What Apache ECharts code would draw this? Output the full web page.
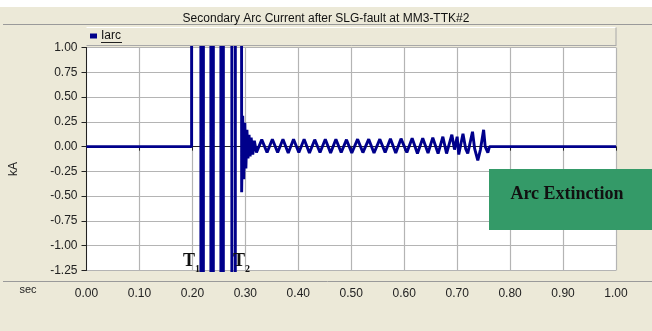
<!DOCTYPE html>
<html>
<head>
<meta charset="utf-8">
<script src="https://cdn.jsdelivr.net/npm/echarts@6/dist/echarts.min.js"></script>
<style>
html,body{margin:0;padding:0;background:#ECE9D8;}
#chart{width:652px;height:331px;}
</style>
</head>
<body>
<div id="chart"></div>
<script>
// ---- data (time in sec, current in kA) ----
const chartTitle = 'Secondary Arc Current after SLG-fault at MM3-TTK#2';
const seriesName = 'Iarc';
const xTicks = [0.0, 0.1, 0.2, 0.3, 0.4, 0.5, 0.6, 0.7, 0.8, 0.9, 1.0];
const yTicks = [1.00, 0.75, 0.50, 0.25, 0.00, -0.25, -0.50, -0.75, -1.00, -1.25];

const preFault = [[0, 0], [0.1985, 0]];
// primary arc: large current, far beyond the visible range
const primaryArc = [
  [0.1987, 12], [0.2158, 12], [0.2162, -12], [0.2206, -12], [0.2210, 12],
  [0.2347, 12], [0.2351, -12], [0.2394, -12], [0.2398, 12],
  [0.2536, 12], [0.2540, -12], [0.2583, -12], [0.2587, 12],
  [0.2743, 12], [0.2747, -12], [0.2809, -12], [0.2813, 12], [0.2920, 12]
];
const transient = [
  [0.2930, -0.46], [0.2950, 0.31], [0.2970, -0.33], [0.2990, 0.24], [0.3010, -0.22],
  [0.3030, 0.17], [0.3050, -0.12], [0.3070, 0.12], [0.3090, -0.10], [0.3110, 0.09],
  [0.3140, -0.08], [0.3170, 0.06]
];
const secondaryArc = [
  [0.321, -0.06], [0.331, 0.07], [0.341, -0.06], [0.351, 0.075], [0.361, -0.06],
  [0.371, 0.075], [0.381, -0.065], [0.391, 0.075], [0.401, -0.06], [0.411, 0.075],
  [0.421, -0.065], [0.431, 0.07], [0.441, -0.06], [0.451, 0.075], [0.461, -0.065],
  [0.471, 0.075], [0.481, -0.06], [0.491, 0.07], [0.501, -0.065], [0.512, 0.075],
  [0.522, -0.06], [0.533, 0.075], [0.543, -0.065], [0.554, 0.075], [0.564, -0.06],
  [0.574, 0.08], [0.584, -0.065], [0.594, 0.08], [0.605, -0.06], [0.615, 0.085],
  [0.625, -0.07], [0.635, 0.085], [0.645, -0.065], [0.654, 0.09], [0.664, -0.07],
  [0.673, 0.10], [0.680, -0.07], [0.690, 0.12], [0.695, -0.03], [0.700, 0.10],
  [0.703, -0.08], [0.711, 0.13], [0.716, -0.02], [0.720, -0.07], [0.729, 0.15],
  [0.733, -0.02], [0.739, -0.14], [0.744, -0.03], [0.750, 0.17], [0.753, 0.0],
  [0.758, -0.06], [0.761, 0.0]
];
const postExtinction = [[0.762, 0], [1.0, 0]];

const iarc = [].concat(preFault, primaryArc, transient, secondaryArc, postExtinction);

// ---- chart ----
const BEIGE = '#ECE9D8';
const FONT = '"Liberation Sans", Arial, sans-serif';
const SERIF = '"Liberation Serif", "Times New Roman", serif';
const chart = echarts.init(document.getElementById('chart'), null, {renderer: 'canvas'});

chart.setOption({
  animation: false,
  backgroundColor: BEIGE,
  title: {
    text: chartTitle,
    left: 'center',
    top: 8,
    textStyle: {fontFamily: FONT, fontSize: 12, fontWeight: 'normal', color: '#111'}
  },
  legend: {
    data: [seriesName],
    left: 90,
    top: 30,
    padding: 0,
    icon: 'rect',
    itemWidth: 7,
    itemHeight: 5,
    textStyle: {fontFamily: FONT, fontSize: 12, color: '#111', padding: [0, 0, 0, -1]}
  },
  grid: {
    left: 86.5, right: 36, top: 47.5, bottom: 60.5,
    show: true, backgroundColor: '#ffffff', borderWidth: 0
  },
  xAxis: {
    type: 'value',
    min: xTicks[0], max: xTicks[xTicks.length - 1], interval: 0.1,
    offset: 11,
    axisLine: {show: true, lineStyle: {color: '#222', width: 1}},
    axisTick: {show: true, length: 4, lineStyle: {color: '#222'}},
    axisLabel: {fontFamily: FONT, fontSize: 12, color: '#222', margin: 6,
      formatter: v => v.toFixed(2)},
    splitLine: {show: true, lineStyle: {color: '#b4b4b4', width: 1.2}}
  },
  yAxis: {
    type: 'value',
    min: yTicks[yTicks.length - 1], max: yTicks[0], interval: 0.25,
    axisLine: {show: true, lineStyle: {color: '#222', width: 1}},
    axisTick: {show: true, length: 5, lineStyle: {color: '#222'}},
    axisLabel: {fontFamily: FONT, fontSize: 12, color: '#222', margin: 9,
      formatter: v => v.toFixed(2)},
    splitLine: {show: true, lineStyle: {color: '#b4b4b4', width: 1.2}}
  },
  series: [{
    name: seriesName,
    type: 'line',
    data: iarc,
    showSymbol: false,
    clip: true,
    color: '#00008B',
    lineStyle: {color: '#00008B', width: 2.9},
    z: 3
  }],
  graphic: [
    {type: 'rect', shape: {x: 0, y: 0, width: 652, height: 7}, style: {fill: '#ffffff'}, z: -1},
    {type: 'line', shape: {x1: 3, y1: 24.5, x2: 652, y2: 24.5}, style: {stroke: '#9a9a9a', lineWidth: 1}, z: 1},
    {type: 'line', shape: {x1: 86.5, y1: 27.5, x2: 616, y2: 27.5}, style: {stroke: '#ffffff', lineWidth: 1}, z: 1},
    {type: 'line', shape: {x1: 86.5, y1: 45.5, x2: 616, y2: 45.5}, style: {stroke: '#a8a8a8', lineWidth: 1}, z: 1},
    {type: 'line', shape: {x1: 616, y1: 27.5, x2: 616, y2: 46}, style: {stroke: '#a8a8a8', lineWidth: 1}, z: 1},
    {type: 'line', shape: {x1: 101, y1: 42.5, x2: 122, y2: 42.5}, style: {stroke: '#222', lineWidth: 1}, z: 5},
    {type: 'line', shape: {x1: 3, y1: 281.5, x2: 652, y2: 281.5}, style: {stroke: '#9a9a9a', lineWidth: 1}, z: 0},
    {type: 'text', x: 14, y: 169, rotation: Math.PI / 2,
      style: {text: 'kA', font: '12px ' + FONT, fill: '#222', align: 'center', verticalAlign: 'middle'}, z: 5},
    {type: 'text', x: 28, y: 290,
      style: {text: 'sec', font: '11px ' + FONT, fill: '#222', align: 'center', verticalAlign: 'middle'}, z: 5},
    {type: 'rect', shape: {x: 489, y: 169, width: 163, height: 61}, style: {fill: '#349A68'}, z: 50},
    {type: 'text', x: 567, y: 194,
      style: {text: 'Arc Extinction', font: 'bold 18px ' + SERIF, fill: '#111',
        align: 'center', verticalAlign: 'middle'}, z: 51},
    {type: 'text', x: 183, y: 270,
      style: {text: '{t|T}{s|1}', verticalAlign: 'bottom', align: 'left',
        rich: {t: {font: 'bold 18px ' + SERIF, fill: '#111', verticalAlign: 'bottom'},
               s: {font: 'bold 10px ' + SERIF, fill: '#111', verticalAlign: 'bottom', padding: [0, 0, -4, 0]}}}, z: 51},
    {type: 'text', x: 233, y: 270,
      style: {text: '{t|T}{s|2}', verticalAlign: 'bottom', align: 'left',
        rich: {t: {font: 'bold 18px ' + SERIF, fill: '#111', verticalAlign: 'bottom'},
               s: {font: 'bold 10px ' + SERIF, fill: '#111', verticalAlign: 'bottom', padding: [0, 0, -4, 0]}}}, z: 51}
  ]
});
</script>
</body>
</html>
